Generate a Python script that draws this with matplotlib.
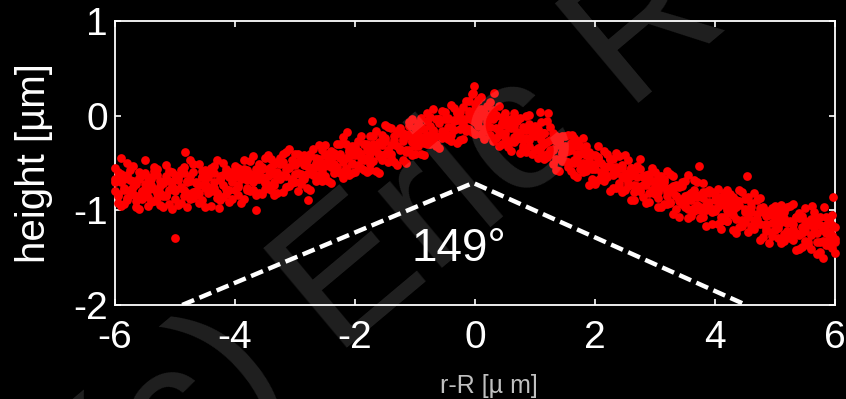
import numpy as np
import matplotlib
matplotlib.use("Agg")
import matplotlib.pyplot as plt

# ---------------- data ----------------
x_pos = [
    -6.00, -5.95, -5.90, -5.85, -5.80, -5.75, -5.70, -5.65, -5.60, -5.55, -5.50, -5.45, -5.40, -5.35, -5.30, -5.25, -5.20, -5.15, -5.10, -5.05,
    -5.00, -4.95, -4.90, -4.85, -4.80, -4.75, -4.70, -4.65, -4.60, -4.55, -4.50, -4.45, -4.40, -4.35, -4.30, -4.25, -4.20, -4.15, -4.10, -4.05,
    -4.00, -3.95, -3.90, -3.85, -3.80, -3.75, -3.70, -3.65, -3.60, -3.55, -3.50, -3.45, -3.40, -3.35, -3.30, -3.25, -3.20, -3.15, -3.10, -3.05,
    -3.00, -2.95, -2.90, -2.85, -2.80, -2.75, -2.70, -2.65, -2.60, -2.55, -2.50, -2.45, -2.40, -2.35, -2.30, -2.25, -2.20, -2.15, -2.10, -2.05,
    -2.00, -1.95, -1.90, -1.85, -1.80, -1.75, -1.70, -1.65, -1.60, -1.55, -1.50, -1.45, -1.40, -1.35, -1.30, -1.25, -1.20, -1.15, -1.10, -1.05,
    -1.00, -0.95, -0.90, -0.85, -0.80, -0.75, -0.70, -0.65, -0.60, -0.55,
    -0.50, -0.45, -0.40, -0.35, -0.30, -0.25, -0.20, -0.15, -0.10, -0.05,
    0.00, 0.05, 0.10, 0.15, 0.20, 0.25, 0.30, 0.35, 0.40, 0.45,
    0.50, 0.55, 0.60, 0.65, 0.70, 0.75, 0.80, 0.85, 0.90, 0.95,
    1.00, 1.05, 1.10, 1.15, 1.20, 1.25, 1.30, 1.35, 1.40, 1.45, 1.50, 1.55, 1.60, 1.65, 1.70, 1.75, 1.80, 1.85, 1.90, 1.95,
    2.00, 2.05, 2.10, 2.15, 2.20, 2.25, 2.30, 2.35, 2.40, 2.45, 2.50, 2.55, 2.60, 2.65, 2.70, 2.75, 2.80, 2.85, 2.90, 2.95,
    3.00, 3.05, 3.10, 3.15, 3.20, 3.25, 3.30, 3.35, 3.40, 3.45, 3.50, 3.55, 3.60, 3.65, 3.70, 3.75, 3.80, 3.85, 3.90, 3.95,
    4.00, 4.05, 4.10, 4.15, 4.20, 4.25, 4.30, 4.35, 4.40, 4.45, 4.50, 4.55, 4.60, 4.65, 4.70, 4.75, 4.80, 4.85, 4.90, 4.95,
    5.00, 5.05, 5.10, 5.15, 5.20, 5.25, 5.30, 5.35, 5.40, 5.45, 5.50, 5.55, 5.60, 5.65, 5.70, 5.75, 5.80, 5.85, 5.90, 5.95, 6.00,
]

height_scan_a = [
    -0.55, -0.85, -0.70, -0.93, -0.63, -0.78, -0.53, -0.90, -0.67, -0.81, -0.61, -0.95, -0.73, -0.58, -0.87, -0.69, -0.96, -0.64, -0.78, -0.59,
    -0.88, -0.65, -0.76, -0.54, -0.96, -0.69, -0.60, -0.80, -0.51, -0.89, -0.71, -0.82, -0.55, -0.76, -0.47, -0.89, -0.63, -0.83, -0.59, -0.70,
    -0.53, -0.75, -0.65, -0.88, -0.57, -0.80, -0.43, -0.67, -0.82, -0.56, -0.45, -0.73, -0.62, -0.84, -0.49, -0.66, -0.41, -0.75, -0.54, -0.71,
    -0.70, -0.41, -0.62, -0.49, -0.76, -0.41, -0.54, -0.69, -0.31, -0.59, -0.42, -0.69, -0.45, -0.51, -0.30, -0.61, -0.23, -0.55, -0.43, -0.61,
    -0.32, -0.52, -0.22, -0.57, -0.36, -0.40, -0.21, -0.58, -0.28, -0.47, -0.10, -0.38, -0.31, -0.49, -0.16, -0.36, -0.18, -0.50, -0.07, -0.28,
    -0.32, -0.08, -0.41, -0.14, 0.03, -0.30, -0.15, -0.32, -0.04, 0.05,
    -0.03, -0.25, 0.11, -0.15, -0.05, -0.26, 0.09, -0.03, -0.14, 0.23,
    -0.07, 0.17, -0.19, 0.03, -0.07, 0.14, -0.27, 0.01, -0.20, -0.08,
    0.03, -0.27, -0.13, 0.03, -0.25, -0.39, -0.12, -0.24, -0.09, -0.40,
    -0.36, -0.20, -0.07, -0.46, -0.28, -0.40, -0.18, -0.57, -0.27, -0.40, -0.21, -0.54, -0.36, -0.63, -0.32, -0.51, -0.24, -0.58, -0.48, -0.67,
    -0.42, -0.68, -0.50, -0.37, -0.65, -0.80, -0.46, -0.61, -0.55, -0.81, -0.42, -0.71, -0.64, -0.81, -0.53, -0.80, -0.65, -0.92, -0.62, -0.78,
    -0.83, -0.64, -0.97, -0.75, -0.58, -0.91, -0.81, -0.99, -0.75, -0.88, -0.69, -1.08, -0.82, -1.01, -0.70, -0.96, -0.81, -1.17, -0.91, -0.81,
    -0.84, -1.14, -0.93, -1.07, -0.78, -1.03, -0.86, -1.24, -0.94, -1.17, -1.02, -0.86, -1.17, -0.82, -1.13, -0.98, -1.28, -1.06, -1.35, -0.98,
    -1.21, -0.99, -1.35, -1.08, -0.97, -1.29, -1.14, -1.42, -1.08, -1.24, -0.98, -1.37, -1.14, -1.23, -1.08, -1.44, -1.21, -1.07, -1.37, -1.26, -1.45,
]

height_scan_b = [
    -0.80, -0.60, -0.95, -0.67, -0.89, -0.57, -0.83, -0.72, -0.99, -0.63, -0.77, -0.66, -0.91, -0.54, -0.82, -0.94, -0.71, -0.85, -0.58, -0.99,
    -0.63, -0.94, -0.57, -0.79, -0.70, -0.88, -0.51, -0.84, -0.73, -0.58, -0.97, -0.65, -0.80, -0.53, -0.87, -0.68, -0.50, -0.77, -0.91, -0.60,
    -0.78, -0.55, -0.92, -0.62, -0.68, -0.48, -0.78, -0.56, -0.63, -0.83, -0.70, -0.42, -0.78, -0.51, -0.65, -0.45, -0.81, -0.56, -0.35, -0.67,
    -0.52, -0.80, -0.46, -0.67, -0.53, -0.60, -0.35, -0.45, -0.67, -0.36, -0.53, -0.40, -0.71, -0.43, -0.58, -0.30, -0.59, -0.45, -0.63, -0.32,
    -0.59, -0.37, -0.45, -0.30, -0.60, -0.21, -0.48, -0.34, -0.61, -0.20, -0.40, -0.12, -0.45, -0.22, -0.32, -0.13, -0.47, -0.22, -0.36, -0.03,
    -0.13, -0.27, -0.14, -0.42, -0.20, -0.01, -0.27, -0.03, -0.34, -0.16,
    -0.22, -0.04, -0.12, 0.08, -0.29, 0.04, -0.10, 0.16, 0.05, -0.17,
    0.12, -0.11, 0.00, -0.25, 0.10, -0.12, -0.02, -0.24, 0.10, -0.30,
    -0.18, -0.05, -0.37, -0.11, -0.03, -0.21, -0.35, 0.00, -0.32, -0.20,
    -0.11, -0.45, -0.33, -0.18, -0.44, -0.12, -0.35, -0.27, -0.58, -0.21, -0.48, -0.37, -0.58, -0.24, -0.45, -0.32, -0.59, -0.42, -0.73, -0.42,
    -0.72, -0.45, -0.66, -0.60, -0.41, -0.53, -0.76, -0.39, -0.71, -0.52, -0.66, -0.47, -0.89, -0.61, -0.74, -0.56, -0.86, -0.71, -0.82, -0.55,
    -0.60, -0.81, -0.70, -0.93, -0.81, -0.62, -1.04, -0.73, -0.90, -0.70, -0.97, -0.84, -1.06, -0.68, -0.98, -0.84, -1.07, -0.81, -0.96, -1.14,
    -1.01, -0.77, -1.11, -0.82, -1.00, -0.89, -1.21, -0.96, -1.18, -0.81, -1.12, -1.04, -0.92, -1.10, -0.89, -1.31, -1.02, -1.22, -1.01, -1.13,
    -0.95, -1.16, -1.05, -1.32, -1.22, -0.95, -1.31, -1.07, -1.41, -1.06, -1.22, -1.15, -1.41, -1.02, -1.33, -1.16, -1.50, -1.24, -1.10, -1.40, -1.18,
]

height_scan_c = [
    -0.67, -0.92, -0.62, -0.76, -0.50, -0.84, -0.69, -0.96, -0.59, -0.88, -0.47, -0.79, -0.65, -0.90, -0.56, -0.74, -0.85, -0.52, -0.93, -0.70,
    -0.77, -0.68, -0.92, -0.61, -0.82, -0.47, -0.87, -0.71, -0.92, -0.65, -0.57, -0.75, -0.95, -0.61, -0.82, -0.67, -0.86, -0.56, -0.65, -0.88,
    -0.65, -0.84, -0.57, -0.47, -0.78, -0.64, -0.70, -0.84, -0.51, -0.65, -0.77, -0.56, -0.46, -0.70, -0.82, -0.51, -0.63, -0.38, -0.74, -0.47,
    -0.40, -0.61, -0.72, -0.42, -0.47, -0.78, -0.63, -0.50, -0.54, -0.69, -0.31, -0.49, -0.37, -0.61, -0.54, -0.41, -0.66, -0.30, -0.36, -0.51,
    -0.42, -0.27, -0.55, -0.47, -0.30, -0.57, -0.33, -0.16, -0.40, -0.45, -0.27, -0.49, -0.13, -0.30, -0.52, -0.18, -0.25, -0.36, -0.11, -0.42,
    -0.41, -0.20, -0.02, -0.29, -0.06, -0.23, 0.07, -0.30, -0.08, -0.24,
    0.04, -0.12, -0.27, -0.05, 0.04, -0.05, -0.25, -0.13, 0.15, 0.02,
    -0.19, 0.00, 0.20, -0.16, -0.11, 0.01, 0.06, -0.13, -0.32, -0.01,
    -0.06, -0.33, -0.03, -0.28, -0.17, -0.02, -0.26, -0.38, 0.01, -0.14,
    -0.22, -0.14, -0.41, -0.30, -0.06, -0.36, -0.51, -0.21, -0.31, -0.48, -0.38, -0.20, -0.32, -0.50, -0.65, -0.41, -0.50, -0.32, -0.38, -0.56,
    -0.51, -0.32, -0.60, -0.69, -0.54, -0.46, -0.63, -0.76, -0.43, -0.64, -0.78, -0.61, -0.55, -0.89, -0.78, -0.46, -0.73, -0.63, -0.91, -0.69,
    -0.74, -0.97, -0.64, -0.70, -0.93, -0.76, -0.64, -0.85, -1.07, -0.74, -0.92, -0.63, -0.89, -0.98, -0.86, -1.08, -0.71, -1.00, -0.79, -0.99,
    -0.89, -0.96, -1.20, -0.88, -1.11, -0.83, -1.05, -0.89, -0.79, -1.10, -0.88, -1.23, -1.02, -1.20, -1.09, -0.87, -0.97, -1.19, -1.05, -1.27,
    -1.08, -1.29, -0.94, -1.25, -1.13, -1.24, -0.93, -1.24, -1.03, -1.39, -1.11, -1.33, -1.09, -1.19, -1.46, -1.07, -1.32, -1.15, -1.30, -1.05, -1.30,
]

height_scan_d = [
    -0.70, -0.83, -0.64, -0.78, -0.87, -0.68, -0.75, -0.85, -0.66, -0.80, -0.72, -0.86, -0.67, -0.77, -0.63, -0.82, -0.71, -0.84, -0.69, -0.75,
    -0.80, -0.64, -0.75, -0.85, -0.69, -0.64, -0.81, -0.70, -0.82, -0.65, -0.76, -0.59, -0.78, -0.70, -0.82, -0.64, -0.73, -0.60, -0.79, -0.66,
    -0.61, -0.73, -0.67, -0.56, -0.76, -0.62, -0.78, -0.59, -0.67, -0.54, -0.71, -0.64, -0.54, -0.73, -0.59, -0.67, -0.49, -0.64, -0.55, -0.69,
    -0.62, -0.49, -0.69, -0.52, -0.62, -0.43, -0.56, -0.63, -0.46, -0.50, -0.64, -0.45, -0.54, -0.39, -0.57, -0.45, -0.49, -0.56, -0.38, -0.50,
    -0.38, -0.53, -0.40, -0.30, -0.45, -0.51, -0.30, -0.37, -0.43, -0.31, -0.24, -0.36, -0.41, -0.26, -0.18, -0.35, -0.27, -0.38, -0.19, -0.27,
    -0.20, -0.32, -0.12, -0.23, -0.30, -0.11, -0.16, -0.22, -0.03, -0.21,
    -0.17, -0.02, -0.20, -0.06, 0.03, -0.14, -0.03, -0.16, 0.03, -0.05,
    0.07, -0.06, 0.07, -0.14, -0.04, -0.20, -0.03, 0.00, -0.16, -0.10,
    -0.23, -0.11, -0.06, -0.23, -0.06, -0.18, -0.32, -0.15, -0.26, -0.15,
    -0.20, -0.34, -0.26, -0.18, -0.40, -0.26, -0.36, -0.46, -0.27, -0.38, -0.32, -0.49, -0.29, -0.47, -0.41, -0.56, -0.39, -0.54, -0.39, -0.53,
    -0.56, -0.44, -0.65, -0.53, -0.64, -0.46, -0.61, -0.54, -0.74, -0.55, -0.63, -0.74, -0.55, -0.73, -0.65, -0.80, -0.64, -0.73, -0.64, -0.81,
    -0.69, -0.87, -0.75, -0.67, -0.85, -0.92, -0.74, -0.85, -0.74, -0.93, -0.85, -0.99, -0.82, -0.78, -0.94, -1.00, -0.87, -0.94, -0.82, -1.02,
    -0.99, -0.86, -1.07, -0.94, -1.11, -0.93, -1.00, -1.09, -0.90, -1.13, -0.99, -1.07, -0.97, -1.17, -1.04, -1.14, -0.99, -1.14, -1.02, -1.23,
    -1.03, -1.19, -1.12, -1.02, -1.25, -1.11, -1.20, -1.07, -1.26, -1.18, -1.32, -1.14, -1.26, -1.12, -1.24, -1.33, -1.19, -1.37, -1.23, -1.15, -1.33,
]

outlier_x = [-5.90, -5.00, -4.83, -4.27, -3.65, -2.78, -2.13, -1.72, -0.02, -0.03, 0.32, 1.08, 1.22, 1.62, 1.72, 3.73, 4.53, 5.62, 5.82, 5.97]
outlier_y = [-0.45, -1.29, -0.38, -0.98, -1.00, -0.89, -0.17, -0.06, 0.31, 0.24, 0.24, 0.04, 0.03, -0.20, -0.27, -0.53, -0.64, -0.95, -0.97, -0.86]

# contact-angle guide lines (dashed)
guide_x = [-4.88, -0.03, 4.52]
guide_y = [-2.00, -0.71, -2.00]
angle_label = "149°"

x_ticks = [-6, -4, -2, 0, 2, 4, 6]
y_ticks = [-2, -1, 0, 1]
x_label = "r-R [µ m]"
y_label = "height [µm]"
watermark = "(c) Eric R"

# ---------------- figure ----------------
plt.rcParams['font.family'] = ['Liberation Sans', 'DejaVu Sans']
plt.rcParams['axes.unicode_minus'] = False

W, H = 846, 399
fig = plt.figure(figsize=(W / 100, H / 100), dpi=100, facecolor='black')
ax = fig.add_axes([115 / W, 1 - 305 / H, (835 - 115) / W, (305 - 21) / H])
ax.set_facecolor('black')

red = '#ff0000'
for ys in (height_scan_a, height_scan_b, height_scan_c, height_scan_d):
    ax.plot(x_pos, ys, 'o', color=red, ms=6.3, mew=0, clip_on=False, zorder=3)
ax.plot(outlier_x, outlier_y, 'o', color=red, ms=6.3, mew=0, clip_on=False, zorder=3)

ax.plot(guide_x, guide_y, color='white', lw=3.2, linestyle=(0, (2.9, 1.3)),
        dash_capstyle='butt', zorder=2.8)
ax.text(-0.27, -1.53, angle_label, color='white', fontsize=33,
        ha='center', va='baseline', zorder=4)

ax.set_xlim(-6, 6)
ax.set_ylim(-2, 1)
ax.set_xticks(x_ticks)
ax.set_yticks(y_ticks)
ax.set_xticklabels([str(t) for t in x_ticks])
ax.set_yticklabels([str(t) for t in y_ticks])
for s in ax.spines.values():
    s.set_color('white')
    s.set_linewidth(1.3)
ax.tick_params(axis='both', which='both', direction='in', length=4.5, width=1.2,
               colors='white', labelsize=28, top=True, right=True)
ax.tick_params(axis='x', pad=11)
ax.tick_params(axis='y', pad=5)

ax.set_ylabel(y_label, color='white', fontsize=29)
ax.yaxis.set_label_coords(-0.086, 0.5)

fig.text(489 / W, 6 / H, x_label, color='#c0c0c0', fontsize=18,
         ha='center', va='baseline')

# watermark
fig.text(125 / W, -135 / H, watermark, color='white', alpha=0.13,
         fontsize=137, rotation=40, rotation_mode='anchor',
         ha='left', va='baseline', zorder=10)

fig.savefig('out.png', dpi=100, facecolor='black')
